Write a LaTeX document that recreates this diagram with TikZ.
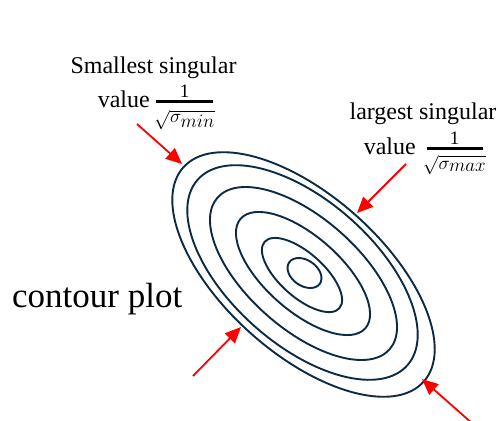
\RequirePackage{fix-cm}
\documentclass[tikz,border=0pt]{standalone}
\usepackage{fontspec}
\setmainfont{Liberation Serif}
\usetikzlibrary{arrows.meta}
\definecolor{navy}{HTML}{0B2A44}
\tikzset{
  contour/.style={draw=navy, line width=1.9pt},
  redarrow/.style={draw=red, line width=1.8pt, -{Triangle[length=16pt,width=14pt]}},
  lbl/.style={inner sep=0pt, anchor=base, font=\fontsize{24}{28}\selectfont},
  numer/.style={inner sep=0pt, anchor=base, font=\fontsize{19}{22}\selectfont},
  denom/.style={inner sep=0pt, anchor=base, font=\fontsize{19}{22}\selectfont},
  fracbar/.style={draw=black, line width=2.6pt},
}
\begin{document}
\begin{tikzpicture}[x=1pt,y=-1pt]
\useasboundingbox (0,0) rectangle (502,420);
\clip (0,0) rectangle (502,420);
% contour ellipses
\draw[contour, shift={(303.5,274.5)}, rotate=-41.7] (0,0) ellipse [x radius=161pt, y radius=79pt];
\draw[contour, shift={(302.5,272.5)}, rotate=-41.5] (0,0) ellipse [x radius=140pt, y radius=72pt];
\draw[contour, shift={(303.5,273.5)}, rotate=-41.4] (0,0) ellipse [x radius=114.7pt, y radius=55.4pt];
\draw[contour, shift={(303,273.5)}, rotate=-41.3] (0,0) ellipse [x radius=83pt, y radius=37.4pt];
\draw[contour, shift={(302,275)}, rotate=-41.7] (0,0) ellipse [x radius=50pt, y radius=22pt];
\draw[contour, shift={(304.5,273)}, rotate=-35] (0,0) ellipse [x radius=18.7pt, y radius=12.8pt];
% labels: smallest
\node[lbl] (small1) at (153.5,73) {Smallest singular};
\node[lbl, anchor=base east] (small2) at (150,107) {value};
\node[numer] (sn) at (184.5,97) {1};
\coordinate (sb1) at (156,101.5); \coordinate (sb2) at (212.5,101.5);
\draw[fracbar] (sb1) -- (sb2);
\node[denom] (sd) at (184.5,122) {$\sqrt{\sigma_{\textstyle min}}$};
% labels: largest
\node[lbl] (large1) at (423,119) {largest singular};
\node[lbl, anchor=base east] (large2) at (416,154) {value};
\node[numer] (ln) at (454.5,144) {1};
\coordinate (lb1) at (426.5,148.5); \coordinate (lb2) at (482.5,148.5);
\draw[fracbar] (lb1) -- (lb2);
\node[denom] (ld) at (454.5,169) {$\sqrt{\sigma_{\textstyle max}}$};
\node[inner sep=0pt, anchor=base west, font=\fontsize{35}{40}\selectfont] (cp) at (12,307) {contour plot};
% arrows
\coordinate (t1) at (137,124); \coordinate (h1) at (182,164);
\coordinate (t2) at (406,164); \coordinate (h2) at (357,213);
\coordinate (t3) at (193,376); \coordinate (h3) at (241,327);
\coordinate (t4) at (482,432); \coordinate (h4) at (422,379);
\draw[redarrow] (t1) -- (h1);
\draw[redarrow] (t2) -- (h2);
\draw[redarrow] (t3) -- (h3);
\draw[redarrow] (t4) -- (h4);
\end{tikzpicture}
\end{document}
